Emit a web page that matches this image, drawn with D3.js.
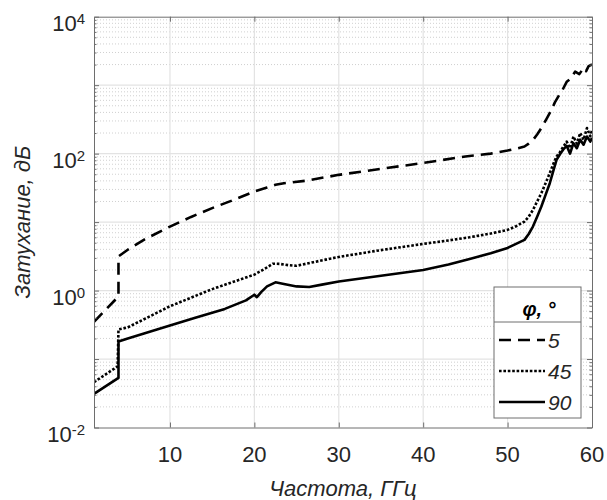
<!DOCTYPE html>
<html>
<head>
<meta charset="utf-8">
<script src="https://cdn.jsdelivr.net/npm/d3@7"></script>
<style>
  html, body { margin: 0; padding: 0; background: #fff; }
  svg { display: block; font-family: "Liberation Sans", Arial, sans-serif; }
</style>
</head>
<body>
<svg id="chart" width="607" height="500"></svg>
<script>
// Frequency (GHz) and attenuation (dB) for each angle φ
const freq5  = [1, 3.9, 3.9, 5, 7, 10, 12.5, 15, 17.5, 20, 21.5, 22.5, 23.5, 26, 30, 35, 40, 45, 48, 50, 51, 52, 52.5, 53, 53.5, 54, 54.6, 55.2, 55.6, 56, 56.5, 57, 57.5, 58, 58.5, 59, 59.3, 59.6, 60];
const att5   = [0.35, 0.82, 3.16, 3.95, 5.6, 8.6, 11.9, 16, 21, 28, 32, 35, 37, 40, 49, 60, 73, 91, 100, 111, 118, 127, 140, 158, 190, 236, 320, 435, 560, 680, 850, 1120, 1250, 1580, 1450, 1780, 1600, 1900, 2000];

const freq45 = [1, 3.8, 3.9, 5, 10, 15, 20, 21, 22.2, 23, 24, 25, 27, 30, 35, 40, 43, 45.5, 48, 50, 51, 52, 52.5, 53, 53.5, 54, 54.5, 55, 55.4, 55.8, 56.2, 56.6, 57, 57.4, 57.8, 58.2, 58.6, 59, 59.4, 59.8, 60];
const att45  = [0.046, 0.078, 0.27, 0.29, 0.59, 1.05, 1.71, 2.0, 2.47, 2.45, 2.35, 2.3, 2.6, 3.1, 3.9, 4.8, 5.4, 6.0, 6.8, 7.7, 8.7, 10.2, 12, 15, 20, 26.5, 37, 52, 70, 91, 105, 126, 150, 120, 178, 140, 200, 160, 236, 180, 220];

const freq90 = [1, 3.9, 3.9, 5, 10, 13, 16.5, 19, 20, 20.3, 20.8, 21.5, 22.5, 23.5, 25, 26.5, 28, 30, 35, 40, 43, 45.5, 48, 50, 51, 52, 52.5, 53, 53.5, 54, 54.5, 55, 55.4, 55.8, 56.2, 56.6, 57, 57.4, 57.8, 58.2, 58.6, 59, 59.4, 59.8, 60];
const att90  = [0.031, 0.053, 0.18, 0.2, 0.31, 0.4, 0.54, 0.72, 0.87, 0.80, 0.95, 1.15, 1.32, 1.25, 1.15, 1.13, 1.22, 1.36, 1.65, 2.0, 2.4, 2.9, 3.5, 4.2, 4.8, 5.5, 6.7, 8.6, 12, 16.9, 25, 37, 55, 81, 98, 115, 130, 100, 142, 120, 160, 135, 178, 150, 170];

const seriesNames = ["5", "45", "90"];
const xTicks = [10, 20, 30, 40, 50, 60];
const yExponents = [-2, 0, 2, 4];

const svg = d3.select("#chart");
const L = 94, R = 592, T = 16.7, B = 427.5;
const textColor = "#262626";

const x = d3.scaleLinear().domain([1, 60]).range([L, R]);
const y = d3.scaleLog().domain([1e-2, 1e4]).range([B, T]);

// Grid: minor (dotted) and major (solid) lines
const minorVals = [];
for (let e = -2; e < 4; e++) for (let m = 2; m <= 9; m++) minorVals.push(m * Math.pow(10, e));
const grid = svg.append("g");
grid.selectAll(".ymin").data(minorVals).join("line")
  .attr("x1", L).attr("x2", R)
  .attr("y1", d => y(d)).attr("y2", d => y(d))
  .attr("stroke", "#c4c4c4").attr("stroke-width", 0.8).attr("stroke-dasharray", "1,2");
grid.selectAll(".ymaj").data(d3.range(-1, 4).map(e => Math.pow(10, e))).join("line")
  .attr("x1", L).attr("x2", R)
  .attr("y1", d => y(d)).attr("y2", d => y(d))
  .attr("stroke", "#e3e3e3").attr("stroke-width", 1.2);
grid.selectAll(".xmaj").data(xTicks.slice(0, -1)).join("line")
  .attr("y1", T).attr("y2", B)
  .attr("x1", d => x(d)).attr("x2", d => x(d))
  .attr("stroke", "#e3e3e3").attr("stroke-width", 1.2);

// Curves
svg.append("clipPath").attr("id", "plotclip").append("rect")
  .attr("x", L).attr("y", T).attr("width", R - L).attr("height", B - T);

const line = d3.line().x(d => x(d[0])).y(d => y(d[1]));
const curves = [
  { pts: d3.zip(freq5, att5),   dash: "12,7", w: 2.6 },
  { pts: d3.zip(freq45, att45), dash: "2.6,1.8", w: 2.6 },
  { pts: d3.zip(freq90, att90), dash: null, w: 2.6 }
];
const cg = svg.append("g").attr("clip-path", "url(#plotclip)");
curves.forEach(c => {
  cg.append("path").datum(c.pts)
    .attr("d", line)
    .attr("fill", "none").attr("stroke", "#000")
    .attr("stroke-width", c.w)
    .attr("stroke-linejoin", "round")
    .attr("stroke-dasharray", c.dash);
});

// Axes box and ticks (inward, on all sides)
const axisColor = "#6e6e6e";
const axBottom = svg.append("g").attr("transform", `translate(0,${B})`)
  .call(d3.axisBottom(x).tickValues(xTicks).tickSizeInner(-5).tickSizeOuter(0).tickFormat(""));
const axTop = svg.append("g").attr("transform", `translate(0,${T})`)
  .call(d3.axisTop(x).tickValues(xTicks).tickSizeInner(-5).tickSizeOuter(0).tickFormat(""));
const axLeft = svg.append("g").attr("transform", `translate(${L},0)`)
  .call(d3.axisLeft(y).tickValues(d3.range(-2, 5).map(e => Math.pow(10, e))).tickSizeInner(-5).tickSizeOuter(0).tickFormat(""));
const axRight = svg.append("g").attr("transform", `translate(${R},0)`)
  .call(d3.axisRight(y).tickValues(d3.range(-2, 5).map(e => Math.pow(10, e))).tickSizeInner(-5).tickSizeOuter(0).tickFormat(""));
const axLeftMin = svg.append("g").attr("transform", `translate(${L},0)`)
  .call(d3.axisLeft(y).tickValues(minorVals).tickSizeInner(-2.5).tickSizeOuter(0).tickFormat(""));
const axRightMin = svg.append("g").attr("transform", `translate(${R},0)`)
  .call(d3.axisRight(y).tickValues(minorVals).tickSizeInner(-2.5).tickSizeOuter(0).tickFormat(""));
[axBottom, axTop, axLeft, axRight, axLeftMin, axRightMin].forEach(g => {
  g.selectAll("path").attr("stroke", axisColor).attr("stroke-width", 1);
  g.selectAll("line").attr("stroke", axisColor).attr("stroke-width", 1);
});
[axLeftMin, axRightMin].forEach(g => g.select(".domain").remove());

// X tick labels
svg.append("g").selectAll("text").data(xTicks).join("text")
  .attr("x", d => x(d)).attr("y", B + 34)
  .attr("text-anchor", "middle")
  .attr("font-size", 22).attr("fill", textColor)
  .text(d => d);

// Y tick labels as 10^n
const yl = svg.append("g").selectAll("text").data(yExponents).join("text")
  .attr("x", L - 9).attr("y", e => y(Math.pow(10, e)) + 14)
  .attr("text-anchor", "end")
  .attr("font-size", 22).attr("fill", textColor);
yl.append("tspan").text("10");
yl.append("tspan").attr("dy", -7).attr("font-size", 15).text(e => e);

// Axis titles
svg.append("text")
  .attr("x", (L + R) / 2).attr("y", 496)
  .attr("text-anchor", "middle").attr("font-style", "italic")
  .attr("font-size", 22).attr("fill", textColor)
  .text("Частота, ГГц");
svg.append("text")
  .attr("transform", `translate(30,${(T + B) / 2}) rotate(-90)`)
  .attr("text-anchor", "middle").attr("font-style", "italic")
  .attr("font-size", 22).attr("fill", textColor)
  .text("Затухание, дБ");

// Legend
const lg = svg.append("g");
const lx0 = 494, lx1 = 581, ly0 = 287, ly1 = 418, lyH = 322;
lg.append("rect").attr("x", lx0).attr("y", ly0).attr("width", lx1 - lx0).attr("height", ly1 - ly0)
  .attr("fill", "#fff").attr("stroke", axisColor).attr("stroke-width", 1);
lg.append("line").attr("x1", lx0).attr("x2", lx1).attr("y1", lyH).attr("y2", lyH)
  .attr("stroke", axisColor).attr("stroke-width", 1);
lg.append("text").attr("x", 539).attr("y", 316)
  .attr("text-anchor", "middle").attr("font-weight", "bold").attr("font-style", "italic")
  .attr("font-size", 20).attr("fill", "#000")
  .text("φ, °");
const legendY = [340, 371, 402];
curves.forEach((c, i) => {
  lg.append("line")
    .attr("x1", 499).attr("x2", 545).attr("y1", legendY[i]).attr("y2", legendY[i])
    .attr("stroke", "#000").attr("stroke-width", c.w)
    .attr("stroke-dasharray", c.dash);
  lg.append("text")
    .attr("x", 548).attr("y", legendY[i] + 8)
    .attr("font-style", "italic").attr("font-size", 21).attr("fill", textColor)
    .text(seriesNames[i]);
});
</script>
</body>
</html>
